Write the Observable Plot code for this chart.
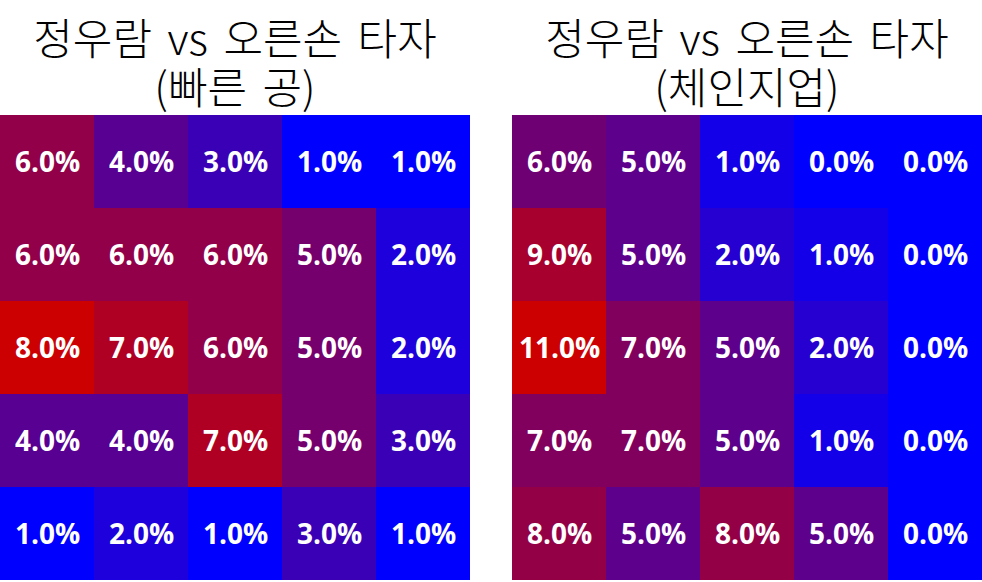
<!DOCTYPE html>
<html>
<head>
<meta charset="utf-8">
<script src="https://cdn.jsdelivr.net/npm/d3@7"></script>
<script src="https://cdn.jsdelivr.net/npm/@observablehq/plot@0.6"></script>
<style>
  html, body { margin: 0; padding: 0; background: #fff; overflow: hidden; }
  #wrap { position: relative; width: 982px; height: 582px; }
  .panel { position: absolute; top: 0; width: 470px; }
  .title {
    height: 113px; box-sizing: border-box; padding-top: 12px;
    font-family: "Noto Sans CJK KR", sans-serif; font-size: 43px; font-weight: 300; line-height: 49px;
    word-spacing: 6px;
    text-align: center; color: #000; white-space: pre;
  }
  .panel svg { display: block; }
</style>
</head>
<body>
<div id="wrap">
  <div class="panel" id="p1" style="left:0px"></div>
  <div class="panel" id="p2" style="left:512px"></div>
</div>
<script>
const titles = ["정우람 vs 오른손 타자\n(빠른 공)", "정우람 vs 오른손 타자\n(체인지업)"];
const cols = ["c1", "c2", "c3", "c4", "c5"];
const rows = ["r1", "r2", "r3", "r4", "r5"];
// percentages, rows top to bottom
const fastball = [
  [6, 4, 3, 1, 1],
  [6, 6, 6, 5, 2],
  [8, 7, 6, 5, 2],
  [4, 4, 7, 5, 3],
  [1, 2, 1, 3, 1]
];
const changeup = [
  [6, 5, 1, 0, 0],
  [9, 5, 2, 1, 0],
  [11, 7, 5, 2, 0],
  [7, 7, 5, 1, 0],
  [8, 5, 8, 5, 0]
];

function draw(el, title, grid) {
  const data = [];
  grid.forEach((r, i) => r.forEach((v, j) => data.push({row: rows[i], col: cols[j], v})));
  const t = document.createElement("div");
  t.className = "title";
  t.textContent = title;
  el.appendChild(t);
  const plot = Plot.plot({
    width: 470, height: 469, margin: 0,
    x: {domain: cols, axis: null, padding: 0},
    y: {domain: rows, axis: null, padding: 0},
    color: {type: "linear", domain: d3.extent(data, d => d.v), range: ["#0000ff", "#cc0000"], interpolate: "rgb"},
    marks: [
      Plot.cell(data, {x: "col", y: "row", fill: "v", inset: 0, shapeRendering: "crispEdges"}),
      Plot.text(data, {x: "col", y: "row", text: d => d.v.toFixed(1) + "%", fill: "white",
        fontSize: 28, fontWeight: "bold", fontFamily: "Open Sans", dy: 1})
    ]
  });
  el.appendChild(plot);
}
draw(document.getElementById("p1"), titles[0], fastball);
draw(document.getElementById("p2"), titles[1], changeup);
</script>
</body>
</html>
